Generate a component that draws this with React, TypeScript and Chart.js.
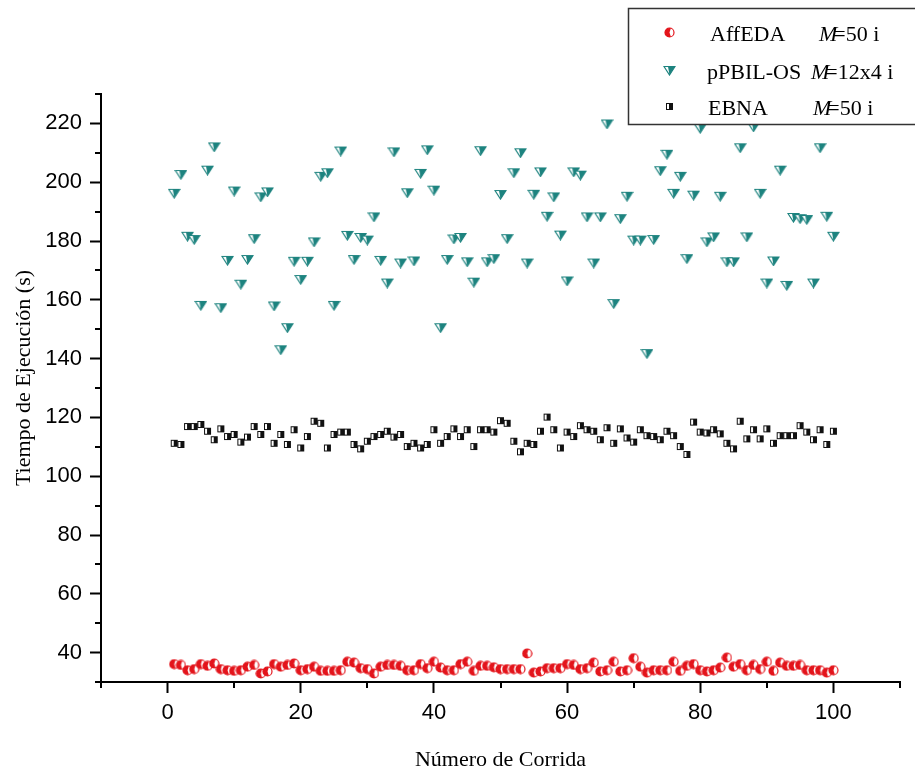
import React, { useEffect, useRef } from 'react';
import { Chart, registerables } from 'chart.js';

Chart.register(...registerables);

// Run numbers (x categories 1..100)
const runNumbers: number[] = Array.from({ length: 100 }, (_, i) => i + 1);

const affEDA: number[] = [
  36.1, 35.8, 34.0, 34.4, 36.1, 35.5, 36.3, 34.4, 34.0, 33.8,
  34.0, 35.2, 35.8, 32.9, 33.6, 36.1, 35.2, 35.8, 36.3, 34.0,
  34.4, 35.2, 33.8, 33.8, 33.8, 34.0, 36.9, 36.6, 34.7, 34.4,
  32.9, 35.2, 35.8, 35.8, 35.5, 34.0, 34.0, 36.1, 34.7, 36.9,
  34.9, 34.0, 34.0, 36.1, 36.9, 33.8, 35.5, 35.5, 35.0, 34.4,
  34.4, 34.4, 34.4, 39.7, 33.2, 33.6, 34.7, 34.7, 34.7, 36.1,
  35.8, 34.4, 34.7, 36.6, 33.6, 34.0, 36.9, 33.6, 34.0, 38.1,
  35.2, 33.2, 34.0, 34.0, 34.0, 36.9, 33.8, 35.5, 36.1, 34.0,
  33.6, 34.0, 34.9, 38.3, 35.2, 36.1, 34.0, 35.8, 34.4, 36.9,
  33.8, 36.6, 35.5, 35.5, 35.8, 34.0, 34.0, 34.0, 33.2, 34.0,
];

const pPBILOS: number[] = [
  196.2, 202.6, 181.6, 180.5, 158.1, 204.1, 212.0, 157.3, 173.4, 197.0,
  165.3, 173.7, 180.8, 195.0, 196.7, 157.9, 143.0, 150.5, 173.1, 166.9,
  173.1, 179.7, 202.0, 203.2, 158.1, 210.6, 181.9, 173.7, 181.2, 180.3,
  188.2, 173.4, 165.7, 210.3, 172.5, 196.4, 173.2, 203.0, 211.0, 197.3,
  150.5, 173.7, 180.7, 181.2, 172.9, 166.0, 210.7, 172.9, 174.0, 195.8,
  180.8, 203.2, 210.0, 172.5, 195.9, 203.5, 188.4, 195.0, 182.0, 166.4,
  203.5, 202.4, 188.2, 172.5, 188.2, 219.8, 158.7, 187.6, 195.2, 180.3,
  180.3, 141.7, 180.5, 203.9, 209.5, 196.2, 202.0, 174.0, 195.6, 218.3,
  179.7, 181.4, 195.2, 172.9, 172.9, 211.7, 181.4, 218.8, 196.2, 165.7,
  173.2, 204.1, 164.9, 188.0, 187.6, 187.3, 165.7, 211.7, 188.4, 181.6,
];

const ebna: number[] = [
  111.2, 110.8, 116.9, 116.9, 117.6, 115.3, 112.4, 116.1, 113.5, 114.2,
  111.6, 113.3, 116.9, 114.2, 116.9, 111.2, 114.2, 110.8, 115.8, 109.6,
  113.5, 118.7, 118.0, 109.6, 114.2, 115.0, 115.0, 110.8, 109.3, 111.9,
  113.5, 114.2, 115.3, 113.3, 114.2, 110.1, 111.2, 109.6, 110.8, 115.8,
  111.2, 113.5, 116.1, 113.5, 115.8, 110.1, 115.8, 115.8, 115.0, 118.9,
  118.0, 111.9, 108.3, 111.2, 110.8, 115.3, 120.1, 115.8, 109.6, 115.0,
  113.5, 117.2, 115.8, 115.3, 112.4, 116.5, 111.2, 116.1, 113.0, 111.6,
  115.8, 113.8, 113.5, 112.4, 115.3, 113.8, 110.1, 107.4, 118.4, 115.0,
  114.7, 115.8, 114.4, 111.2, 109.3, 118.7, 112.7, 115.8, 112.7, 116.1,
  111.2, 113.8, 113.8, 113.8, 117.2, 115.0, 112.4, 115.8, 110.8, 115.3,
];

const xTickValues: number[] = [0, 20, 40, 60, 80, 100];
const xMinorValues: number[] = [-10, 10, 30, 50, 70, 90, 110];
const yTickValues: number[] = [40, 60, 80, 100, 120, 140, 160, 180, 200, 220];
const yMinorValues: number[] = [30, 50, 70, 90, 110, 130, 150, 170, 190, 210, 230];

const seriesNames: string[] = ['AffEDA', 'pPBIL-OS', 'EBNA'];
const seriesParams: string[] = ['=50 i', '=12x4 i', '=50 i'];

const xTitle = 'Número de Corrida';
const yTitle = 'Tiempo de Ejecución (s)';

const RED = '#e3141b';
const TEAL = '#1d837f';
const BLACK = '#111111';

function makeMarker(kind: 'circle' | 'triangle' | 'square'): HTMLCanvasElement {
  const c = document.createElement('canvas');
  const ctx = c.getContext('2d')!;
  if (kind === 'circle') {
    c.width = 11; c.height = 11;
    ctx.beginPath(); ctx.arc(5.5, 5.5, 4.5, 0, Math.PI * 2);
    ctx.fillStyle = '#fff'; ctx.fill();
    ctx.beginPath(); ctx.moveTo(5.5, 5.5); ctx.arc(5.5, 5.5, 4.5, Math.PI * 0.4, Math.PI * 1.6); ctx.closePath();
    ctx.fillStyle = RED; ctx.fill();
    ctx.beginPath(); ctx.arc(5.5, 5.5, 4.5, 0, Math.PI * 2);
    ctx.strokeStyle = RED; ctx.lineWidth = 1.2; ctx.stroke();
  } else if (kind === 'triangle') {
    c.width = 13; c.height = 11;
    ctx.beginPath(); ctx.moveTo(1, 1.5); ctx.lineTo(12, 1.5); ctx.lineTo(6.5, 10); ctx.closePath();
    ctx.fillStyle = '#fff'; ctx.fill();
    ctx.beginPath(); ctx.moveTo(5, 1.5); ctx.lineTo(12, 1.5); ctx.lineTo(6.5, 10); ctx.closePath();
    ctx.fillStyle = TEAL; ctx.fill();
    ctx.beginPath(); ctx.moveTo(1, 1.5); ctx.lineTo(12, 1.5); ctx.lineTo(6.5, 10); ctx.closePath();
    ctx.strokeStyle = TEAL; ctx.lineWidth = 1.2; ctx.stroke();
  } else {
    c.width = 9; c.height = 9;
    ctx.fillStyle = '#fff'; ctx.fillRect(1, 1, 7, 7);
    ctx.fillStyle = BLACK; ctx.fillRect(4, 1, 4, 7);
    ctx.strokeStyle = BLACK; ctx.lineWidth = 1; ctx.strokeRect(1.5, 1.5, 6, 6);
  }
  return c;
}

export default function App() {
  const canvasRef = useRef<HTMLCanvasElement | null>(null);

  useEffect(() => {
    document.body.style.margin = '0';
    const canvas = canvasRef.current;
    if (!canvas) return;

    const circle = makeMarker('circle');
    const triangle = makeMarker('triangle');
    const square = makeMarker('square');
    const markers = [circle, triangle, square];

    const decorPlugin = {
      id: 'decor',
      afterDraw(chart: any) {
        const { ctx, chartArea, scales } = chart;
        const xs = scales.x;
        const ys = scales.y;
        ctx.save();
        // minor ticks
        ctx.strokeStyle = '#000';
        ctx.lineWidth = 2;
        yMinorValues.forEach((v) => {
          const py = Math.round(ys.getPixelForValue(v));
          ctx.beginPath();
          ctx.moveTo(chartArea.left - 6, py);
          ctx.lineTo(chartArea.left, py);
          ctx.stroke();
        });
        xMinorValues.forEach((v) => {
          const px = Math.round(xs.getPixelForValue(v));
          ctx.beginPath();
          ctx.moveTo(px, chartArea.bottom);
          ctx.lineTo(px, chartArea.bottom + 6);
          ctx.stroke();
        });

        // axis titles
        ctx.fillStyle = '#000';
        ctx.font = '22px "Liberation Serif", "Times New Roman", serif';
        ctx.textAlign = 'center';
        ctx.textBaseline = 'alphabetic';
        ctx.fillText(xTitle, (chartArea.left + chartArea.right) / 2, 766);
        ctx.save();
        ctx.translate(30, 378);
        ctx.rotate(-Math.PI / 2);
        ctx.fillText(yTitle, 0, 0);
        ctx.restore();

        // legend box
        ctx.fillStyle = '#fff';
        ctx.fillRect(628, 8, 300, 117);
        ctx.strokeStyle = '#333';
        ctx.lineWidth = 1.5;
        ctx.strokeRect(628.5, 8.5, 300, 116);
        const rowMarkY = [32.5, 70.5, 106.5];
        const rowBase = [41, 78.5, 114.5];
        const nameX = [710, 707, 708];
        const mX = [819, 811, 813];
        ctx.textAlign = 'left';
        for (let i = 0; i < 3; i++) {
          const m = markers[i];
          ctx.drawImage(m, Math.round(669 - m.width / 2), Math.round(rowMarkY[i] - m.height / 2));
          ctx.fillStyle = '#000';
          ctx.font = '22px "Liberation Serif", "Times New Roman", serif';
          ctx.fillText(seriesNames[i], nameX[i], rowBase[i]);
          ctx.font = 'italic 22px "Liberation Serif", "Times New Roman", serif';
          ctx.fillText('M', mX[i], rowBase[i]);
          const mw = ctx.measureText('M').width;
          ctx.font = '22px "Liberation Serif", "Times New Roman", serif';
          ctx.fillText(seriesParams[i], mX[i] + mw - 4, rowBase[i]);
        }
        ctx.restore();
      },
    };

    const tickFont = { family: '"Liberation Sans", Arial, sans-serif', size: 22 };

    const chart = new Chart(canvas, {
      type: 'scatter',
      data: {
        datasets: [
          {
            label: seriesNames[2],
            data: runNumbers.map((x, i) => ({ x, y: ebna[i] })),
            pointStyle: square as any,
            showLine: false,
          },
          {
            label: seriesNames[1],
            data: runNumbers.map((x, i) => ({ x, y: pPBILOS[i] })),
            pointStyle: triangle as any,
            showLine: false,
          },
          {
            label: seriesNames[0],
            data: runNumbers.map((x, i) => ({ x, y: affEDA[i] })),
            pointStyle: circle as any,
            showLine: false,
          },
        ],
      },
      options: {
        animation: false,
        responsive: false,
        devicePixelRatio: 1,
        events: [],
        layout: { padding: { top: 94, right: 15, left: 0, bottom: 0 } },
        plugins: {
          legend: { display: false },
          tooltip: { enabled: false },
          title: { display: false },
        },
        scales: {
          x: {
            type: 'linear',
            min: -10,
            max: 110,
            afterBuildTicks: (s: any) => {
              s.ticks = xTickValues.map((v) => ({ value: v }));
            },
            afterFit: (s: any) => {
              s.height = 91;
            },
            ticks: { font: tickFont, color: '#000', padding: 7, maxRotation: 0, autoSkip: false },
            grid: { display: true, drawOnChartArea: false, drawTicks: true, tickLength: 11, tickWidth: 2, tickColor: '#000' },
            border: { display: true, color: '#000', width: 2 },
          },
          y: {
            type: 'linear',
            min: 30,
            max: 230,
            afterBuildTicks: (s: any) => {
              s.ticks = yTickValues.map((v) => ({ value: v }));
            },
            afterFit: (s: any) => {
              s.width = 101;
            },
            ticks: { font: tickFont, color: '#000', padding: 8, autoSkip: false },
            grid: { display: true, drawOnChartArea: false, drawTicks: true, tickLength: 11, tickWidth: 2, tickColor: '#000' },
            border: { display: true, color: '#000', width: 2 },
          },
        },
      },
      plugins: [decorPlugin],
    });

    return () => chart.destroy();
  }, []);

  return (
    <div style={{ width: 915, height: 773, background: '#fff' }}>
      <canvas ref={canvasRef} width={915} height={773} style={{ display: 'block' }} />
    </div>
  );
}
